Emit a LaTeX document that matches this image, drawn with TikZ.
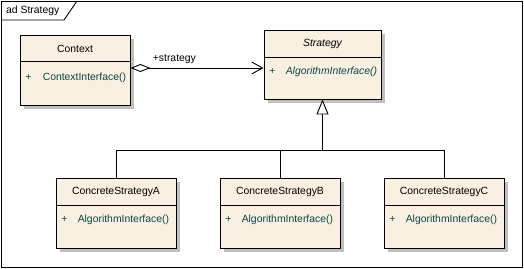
\documentclass[tikz,border=0pt]{standalone}
\usepackage{fontspec}
\setmainfont{Liberation Sans}
\usetikzlibrary{arrows.meta, positioning, shadows}
\definecolor{classfill}{RGB}{250,240,226}
\definecolor{opcolor}{RGB}{8,70,70}
\tikzset{cls/.style={rectangle,draw,fill=classfill,line width=0.9pt,minimum height=70pt,inner sep=0pt,drop shadow={shadow xshift=4pt,shadow yshift=-4pt,fill=black!25,opacity=1}},title/.style={inner sep=0pt,font=\fontsize{10.4}{12}\selectfont},op/.style={inner sep=0pt,anchor=west,text=opcolor,font=\fontsize{10.4}{12}\selectfont},assoc/.style={line width=0.9pt,{Diamond[open,length=20pt,width=8pt]}-{Straight Barb[length=11pt,width=12pt]}},gen/.style={line width=0.9pt,-{Triangle[length=15pt,width=12pt,fill=white]}},line/.style={line width=0.9pt}}

\begin{document}
\begin{tikzpicture}[x=1pt,y=-1pt]
\useasboundingbox (0,0) rectangle (524,268);
% frame
\draw[line] (1,1) rectangle (522,267);
\draw[line] (1,20) -- (64,20) -- (77,1);
\node[title, anchor=west] (frametitle) at (6,11) {ad Strategy};
% classes
\node[cls, minimum width=110pt] (context) at (75,70) {};
\node[title] (contextname) at ([yshift=-14pt]context.north) {Context};
\draw[line] ([yshift=-27pt]context.north west) -- ([yshift=-27pt]context.north east);
\node[op] (contextplus) at ([xshift=5.5pt,yshift=-43pt]context.north west) {+};
\node[op] (contextop) at ([xshift=23pt,yshift=-43pt]context.north west) {ContextInterface()};
\node[cls, minimum width=117pt, minimum height=69pt] (strategy) at (322.5,64.5) {};
\node[title] (strategyname) at ([yshift=-14.5pt]strategy.north) {\itshape Strategy};
\draw[line] ([yshift=-28pt]strategy.north west) -- ([yshift=-28pt]strategy.north east);
\node[op] (strategyplus) at ([xshift=5.5pt,yshift=-42pt]strategy.north west) {+};
\node[op] (strategyop) at ([xshift=22pt,yshift=-42pt]strategy.north west) {\itshape AlgorithmInterface()};
\node[cls, minimum width=120pt] (concreteA) at (116,213) {};
\node[title] (concreteAname) at ([yshift=-14pt]concreteA.north) {ConcreteStrategyA};
\draw[line] ([yshift=-28pt]concreteA.north west) -- ([yshift=-28pt]concreteA.north east);
\node[op] (concreteAplus) at ([xshift=5.5pt,yshift=-42pt]concreteA.north west) {+};
\node[op] (concreteAop) at ([xshift=22pt,yshift=-42pt]concreteA.north west) {AlgorithmInterface()};
\node[cls, minimum width=120pt] (concreteB) at (280,213) {};
\node[title] (concreteBname) at ([yshift=-14pt]concreteB.north) {ConcreteStrategyB};
\draw[line] ([yshift=-28pt]concreteB.north west) -- ([yshift=-28pt]concreteB.north east);
\node[op] (concreteBplus) at ([xshift=5.5pt,yshift=-42pt]concreteB.north west) {+};
\node[op] (concreteBop) at ([xshift=22pt,yshift=-42pt]concreteB.north west) {AlgorithmInterface()};
\node[cls, minimum width=120pt] (concreteC) at (444,213) {};
\node[title] (concreteCname) at ([yshift=-14pt]concreteC.north) {ConcreteStrategyC};
\draw[line] ([yshift=-28pt]concreteC.north west) -- ([yshift=-28pt]concreteC.north east);
\node[op] (concreteCplus) at ([xshift=5.5pt,yshift=-42pt]concreteC.north west) {+};
\node[op] (concreteCop) at ([xshift=22pt,yshift=-42pt]concreteC.north west) {AlgorithmInterface()};
% relations
\draw[assoc] ([yshift=2pt]context.east) coordinate (assocstart) -- node[title, above, pos=0.33, yshift=4pt]{+strategy} (assocstart -| strategy.west);
\coordinate (bus) at (strategy.south |- 0,150);
\draw[gen] (bus) -- (strategy.south);
\draw[line] (concreteA.north) |- (bus);
\draw[line] (concreteC.north) |- (bus);
\draw[line] (concreteB.north) -- (concreteB.north |- bus);
\end{tikzpicture}
\end{document}
